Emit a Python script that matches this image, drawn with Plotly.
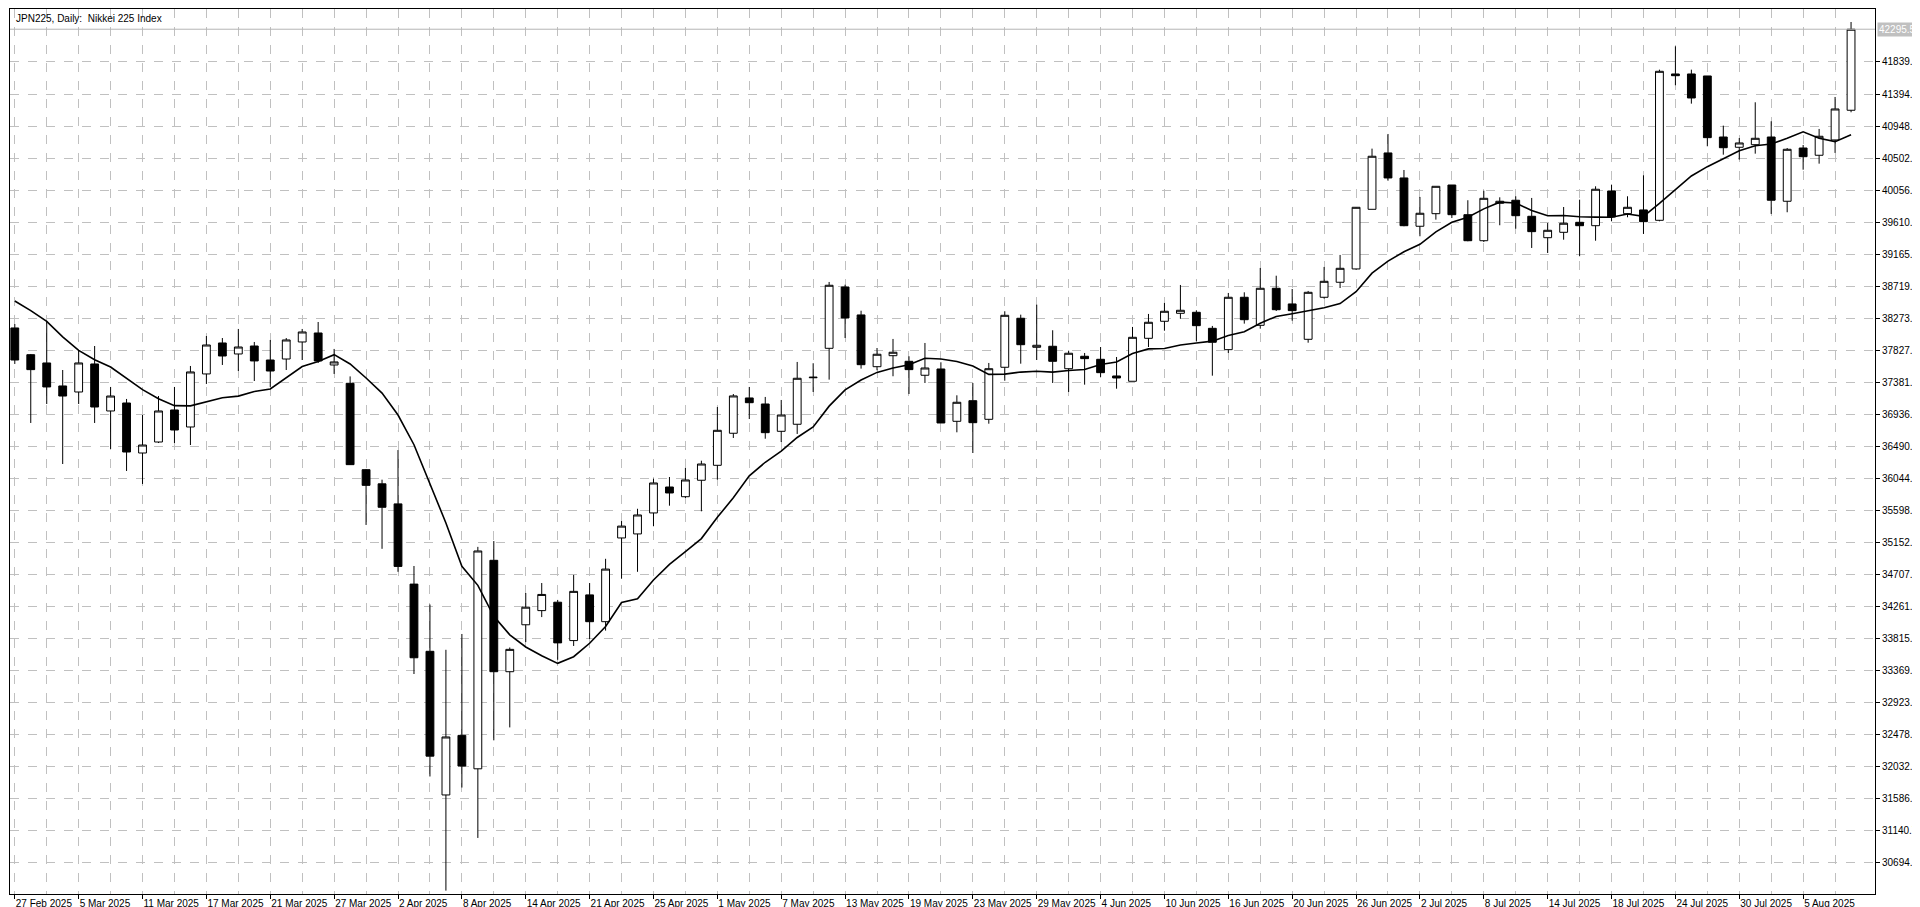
import plotly.graph_objects as go
import pandas as pd

# daily bars, business days 27 Feb - 8 Aug 2025 (18 Apr missing)
opens = [38139, 37767, 37652, 37332, 37248, 37638, 36984, 37095, 36399, 36552,
         36998, 36761, 37499, 37930, 37777, 37888, 37693, 37707, 37944, 38069,
         37624, 37369, 36167, 35970, 35691, 34575, 33640, 31641, 32470, 32005,
         34906, 33356, 34009, 34206, 34323, 33789, 34425, 34052, 35217, 35273,
         35565, 35926, 35791, 36020, 36228, 36674, 37165, 37081, 36701, 36799,
         37446, 37856, 38709, 38320, 37600, 37753, 37675, 37481, 37568, 36840,
         37127, 36868, 37592, 38274, 37870, 37884, 37572, 37745, 37703, 37471,
         37397, 37995, 38232, 38343, 38357, 38134, 37837, 38566, 38176, 38691,
         38473, 37981, 38566, 38775, 38960, 39790, 40574, 40226, 39554, 39729,
         40128, 39715, 39353, 39874, 39916, 39693, 39395, 39470, 39609, 39562,
         40045, 39729, 39781, 39637, 41673, 41673, 41645, 40796, 40653, 40689,
         40796, 39902, 40643, 40542, 40755, 41168]
highs = [38194, 37777, 38236, 37554, 37819, 37888, 37318, 37151, 36928, 37192,
         37318, 37610, 38027, 37999, 38125, 37944, 37972, 37999, 38125, 38222,
         37847, 37465, 36177, 36028, 36440, 34827, 34291, 33661, 33881, 35093,
         35174, 33693, 34451, 34590, 34355, 34703, 34590, 34927, 35452, 35623,
         36042, 36065, 36191, 36292, 37039, 37220, 37318, 37179, 37137, 37666,
         37648, 38779, 38741, 38379, 37860, 37986, 37745, 37930, 37661, 37202,
         37373, 37652, 38371, 38324, 38463, 38107, 37823, 37791, 37874, 37735,
         38153, 38334, 38487, 38737, 38385, 38167, 38626, 38635, 38974, 38866,
         38681, 38654, 38988, 39155, 39822, 40634, 40838, 40337, 39962, 40110,
         40128, 39916, 40049, 39957, 39971, 39948, 39600, 39822, 39924, 40110,
         40133, 39971, 40263, 41733, 42058, 41733, 41645, 40954, 40782, 41279,
         41015, 40643, 40685, 40908, 41353, 42396]
lows = [37638, 36817, 37081, 36246, 37081, 36817, 36455, 36149, 35968, 36538,
        36538, 36510, 37360, 37624, 37540, 37401, 37318, 37554, 37693, 37652,
        37499, 36232, 35398, 35066, 34746, 33324, 31898, 30310, 31744, 31043,
        32401, 32581, 33768, 34116, 33522, 33714, 33811, 33928, 34650, 34746,
        35380, 35666, 35773, 35588, 36028, 36608, 36872, 36598, 36552, 36664,
        37248, 37420, 37999, 37573, 37550, 37467, 37220, 37373, 36817, 36687,
        36399, 36807, 37405, 37642, 37693, 37373, 37248, 37350, 37457, 37294,
        37397, 37874, 38101, 38268, 37954, 37475, 37791, 38199, 38129, 38375,
        38240, 37934, 38547, 38695, 38950, 39790, 40188, 39554, 39415, 39646,
        39669, 39345, 39335, 39568, 39520, 39252, 39182, 39367, 39137, 39353,
        39623, 39679, 39447, 39623, 41516, 41260, 40667, 40550, 40481, 40564,
        39725, 39749, 40341, 40425, 40574, 41140]
closes = [37693, 37559, 37318, 37192, 37652, 37039, 37192, 36413, 36510, 36984,
          36719, 37527, 37902, 37749, 37874, 37680, 37540, 37972, 38083, 37680,
          37666, 36237, 35949, 35644, 34821, 33550, 32181, 32448, 32043, 35036,
          33356, 33667, 34254, 34431, 33757, 34474, 34052, 34784, 35382, 35537,
          35982, 35843, 36024, 36246, 36715, 37193, 37099, 36682, 36928, 37439,
          37453, 38733, 38278, 37628, 37773, 37801, 37559, 37582, 36817, 37105,
          36821, 37572, 38315, 37906, 37898, 37675, 37787, 37712, 37517, 37443,
          38009, 38218, 38371, 38385, 38171, 37940, 38566, 38254, 38691, 38393,
          38380, 38635, 38788, 38969, 39818, 40528, 40226, 39562, 39735, 40110,
          39715, 39353, 39943, 39902, 39701, 39479, 39498, 39596, 39562, 40069,
          39683, 39818, 39618, 41710, 41649, 41339, 40787, 40647, 40713, 40778,
          39916, 40625, 40522, 40806, 41186, 42295.5]
# closes of the nine sessions before the first bar (for the 10-period average)
prior_closes = [38900, 38810, 39350, 39530, 38350, 38200, 38000, 38080, 38232]

tick_labels = ['27 Feb 2025', '5 Mar 2025', '11 Mar 2025', '17 Mar 2025', '21 Mar 2025',
               '27 Mar 2025', '2 Apr 2025', '8 Apr 2025', '14 Apr 2025', '21 Apr 2025',
               '25 Apr 2025', '1 May 2025', '7 May 2025', '13 May 2025', '19 May 2025',
               '23 May 2025', '29 May 2025', '4 Jun 2025', '10 Jun 2025', '16 Jun 2025',
               '20 Jun 2025', '26 Jun 2025', '2 Jul 2025', '8 Jul 2025', '14 Jul 2025',
               '18 Jul 2025', '24 Jul 2025', '30 Jul 2025', '5 Aug 2025']
price_ticks = [30694.9 + 445.8 * k for k in range(26)]

n = len(closes)
idx = list(range(n))
ma = pd.Series(prior_closes + closes).rolling(10).mean().iloc[len(prior_closes):].tolist()

fig = go.Figure()
fig.add_trace(go.Candlestick(
    x=idx, open=opens, high=highs, low=lows, close=closes,
    increasing=dict(line=dict(color='black', width=1), fillcolor='white'),
    decreasing=dict(line=dict(color='black', width=1), fillcolor='black'),
    whiskerwidth=0, showlegend=False, hoverinfo='skip'))
fig.add_trace(go.Scatter(x=idx, y=ma, mode='lines', line=dict(color='black', width=1.6),
                         showlegend=False, hoverinfo='skip'))

fig.add_hline(y=closes[-1], line=dict(color='#b4b4b4', width=1))
fig.add_annotation(x=1, xref='paper', y=closes[-1], yref='y', xanchor='left', showarrow=False,
                   text=f'{closes[-1]:.1f}', bgcolor='#c0c0c0', font=dict(color='white', size=10),
                   xshift=2, borderpad=1)
fig.add_annotation(x=0, xref='paper', y=1, yref='paper', xanchor='left', yanchor='top',
                   showarrow=False, text='JPN225, Daily:  Nikkei 225 Index',
                   font=dict(color='black', size=10), xshift=4, yshift=-2)

grid = dict(showgrid=True, gridcolor='#c0c0c0', griddash='dash', gridwidth=1)
fig.update_xaxes(range=[-0.3, 116.5], tickvals=idx[::4][:len(tick_labels)], ticktext=tick_labels,
                 tickangle=0, ticks='outside', ticklen=4, tickcolor='black',
                 ticklabelposition='outside right',
                 minor=dict(tickvals=idx[2::4], showgrid=True, gridcolor='#c0c0c0', griddash='dash'),
                 showline=True, linecolor='black', mirror=True, zeroline=False,
                 rangeslider_visible=False, tickfont=dict(size=10, color='black'), **grid)
fig.update_yaxes(range=[30263, 42577], side='right', tickvals=price_ticks,
                 ticktext=[f'{v:.1f}' for v in price_ticks], ticks='outside', ticklen=4,
                 tickcolor='black', showline=True, linecolor='black', mirror=True, zeroline=False,
                 tickfont=dict(size=10, color='black'), **grid)
fig.update_layout(width=1920, height=907, margin=dict(l=2, r=53, t=1, b=21),
                  plot_bgcolor='white', paper_bgcolor='white',
                  font=dict(family='Liberation Sans', color='black'))
fig.write_html('out.html')
